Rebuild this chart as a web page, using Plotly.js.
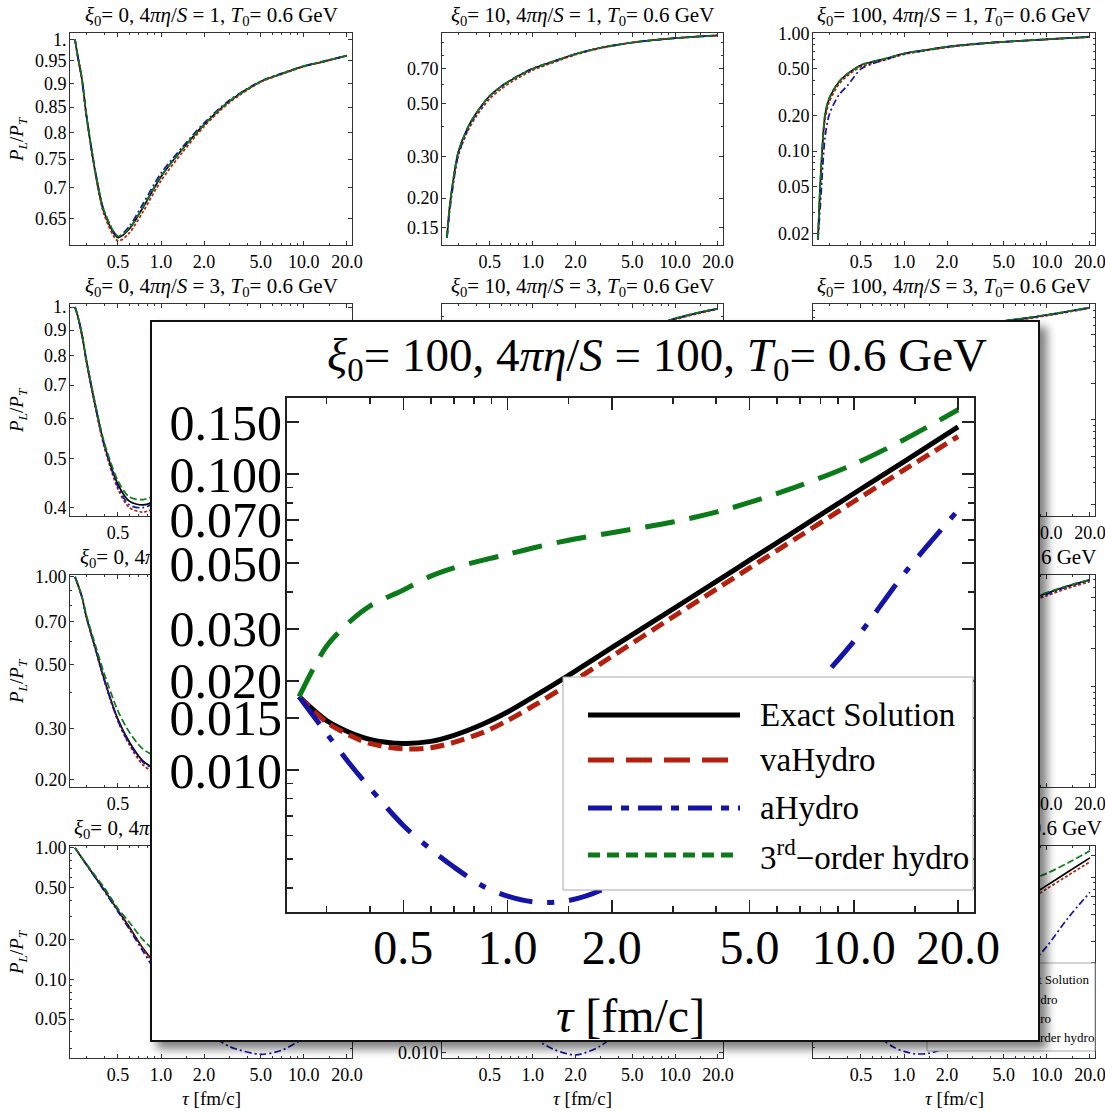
<!DOCTYPE html>
<html>
<head>
<meta charset="utf-8">
<script src="https://cdn.plot.ly/plotly-3.0.1.min.js"></script>
<style>
  html, body { margin: 0; padding: 0; background: #fff; overflow: hidden; }
  #grid { position: absolute; left: 0; top: 0; width: 1105px; height: 1112px; }
  #zoom { position: absolute; left: 150px; top: 320px; width: 886px; height: 718px;
          border: 2px solid #111; background: #fff;
          box-shadow: 7px 7px 9px rgba(0,0,0,0.5); }
</style>
</head>
<body>
<div id="grid"></div>
<div id="zoom"></div>
<script>
// Proper time grids (fm/c)
const tau = [0.25, 0.26, 0.28, 0.3, 0.35, 0.4, 0.5, 0.6, 0.75, 1.0, 1.4, 2.0, 3.0, 5.0, 7.0, 10, 14, 20];
const tauZoom = [0.25, 0.3, 0.35, 0.4, 0.5, 0.6, 0.7, 0.85, 1.0, 1.2, 1.5, 2.0, 3.0, 4.0, 5.0, 7.0, 10, 14, 20];

// P_L/P_T, xi0 = 0, 4 pi eta/S = 1
const exact_0_1 = [1.0, 0.965, 0.908, 0.835, 0.722, 0.660, 0.621, 0.634, 0.668, 0.719, 0.767, 0.815, 0.862, 0.904, 0.921, 0.938, 0.949, 0.962];
const vah_0_1   = [1.0, 0.964, 0.906, 0.833, 0.719, 0.656, 0.616, 0.628, 0.661, 0.712, 0.761, 0.811, 0.859, 0.903, 0.920, 0.937, 0.949, 0.962];
const ah_0_1    = [1.0, 0.965, 0.908, 0.835, 0.723, 0.662, 0.623, 0.638, 0.674, 0.725, 0.771, 0.818, 0.864, 0.905, 0.922, 0.938, 0.950, 0.962];
const third_0_1 = [1.0, 0.966, 0.909, 0.836, 0.724, 0.662, 0.623, 0.635, 0.669, 0.720, 0.767, 0.815, 0.862, 0.904, 0.921, 0.938, 0.949, 0.962];

// xi0 = 10, 4 pi eta/S = 1
const exact_10_1 = [0.136, 0.18, 0.25, 0.312, 0.396, 0.454, 0.539, 0.589, 0.641, 0.700, 0.752, 0.808, 0.858, 0.903, 0.924, 0.942, 0.955, 0.967];
const vah_10_1   = [0.136, 0.176, 0.243, 0.302, 0.383, 0.440, 0.524, 0.575, 0.629, 0.690, 0.744, 0.802, 0.854, 0.901, 0.923, 0.941, 0.954, 0.966];
const ah_10_1    = [0.136, 0.172, 0.240, 0.303, 0.390, 0.451, 0.538, 0.590, 0.643, 0.702, 0.753, 0.808, 0.858, 0.903, 0.924, 0.942, 0.955, 0.967];
const third_10_1 = [0.136, 0.18, 0.251, 0.313, 0.397, 0.455, 0.540, 0.590, 0.642, 0.700, 0.752, 0.808, 0.858, 0.903, 0.924, 0.942, 0.955, 0.967];

// xi0 = 100, 4 pi eta/S = 1
const exact_100_1 = [0.0177, 0.055, 0.20, 0.28, 0.387, 0.451, 0.538, 0.574, 0.613, 0.676, 0.722, 0.770, 0.811, 0.850, 0.870, 0.893, 0.914, 0.935];
const vah_100_1   = [0.0177, 0.050, 0.185, 0.262, 0.370, 0.435, 0.522, 0.558, 0.600, 0.664, 0.712, 0.762, 0.805, 0.846, 0.867, 0.891, 0.912, 0.934];
const ah_100_1    = [0.0177, 0.035, 0.13, 0.205, 0.30, 0.358, 0.50, 0.553, 0.603, 0.672, 0.720, 0.770, 0.811, 0.850, 0.870, 0.893, 0.914, 0.935];
const third_100_1 = [0.0177, 0.058, 0.205, 0.285, 0.390, 0.453, 0.540, 0.576, 0.614, 0.676, 0.722, 0.770, 0.811, 0.850, 0.870, 0.893, 0.914, 0.935];

// xi0 = 0, 4 pi eta/S = 3
const exact_0_3 = [1.0, 0.965, 0.88, 0.785, 0.63, 0.535, 0.445, 0.412, 0.405, 0.42, 0.46, 0.52, 0.60, 0.70, 0.755, 0.80, 0.838, 0.87];
const vah_0_3   = [1.0, 0.963, 0.876, 0.78, 0.624, 0.528, 0.435, 0.40, 0.392, 0.405, 0.445, 0.505, 0.585, 0.69, 0.748, 0.795, 0.834, 0.866];
const ah_0_3    = [1.0, 0.965, 0.88, 0.785, 0.63, 0.533, 0.44, 0.405, 0.40, 0.418, 0.46, 0.52, 0.60, 0.70, 0.755, 0.80, 0.838, 0.87];
const third_0_3 = [1.0, 0.966, 0.882, 0.788, 0.635, 0.54, 0.452, 0.42, 0.415, 0.43, 0.468, 0.526, 0.604, 0.703, 0.757, 0.802, 0.839, 0.871];

// xi0 = 10, 4 pi eta/S = 3
const exact_10_3 = [0.134, 0.16, 0.205, 0.24, 0.30, 0.345, 0.405, 0.44, 0.475, 0.515, 0.56, 0.605, 0.655, 0.70, 0.735, 0.785, 0.825, 0.862];
const vah_10_3   = [0.134, 0.158, 0.20, 0.234, 0.292, 0.335, 0.392, 0.425, 0.46, 0.50, 0.545, 0.592, 0.643, 0.69, 0.727, 0.778, 0.819, 0.857];
const ah_10_3    = [0.134, 0.152, 0.19, 0.225, 0.285, 0.33, 0.395, 0.435, 0.473, 0.515, 0.56, 0.605, 0.655, 0.70, 0.735, 0.785, 0.825, 0.862];
const third_10_3 = [0.134, 0.162, 0.208, 0.245, 0.306, 0.352, 0.413, 0.448, 0.483, 0.522, 0.565, 0.61, 0.659, 0.703, 0.737, 0.787, 0.827, 0.863];

// xi0 = 100, 4 pi eta/S = 3
const exact_100_3 = [0.0177, 0.03, 0.06, 0.09, 0.15, 0.20, 0.27, 0.315, 0.36, 0.415, 0.47, 0.525, 0.585, 0.65, 0.685, 0.73, 0.78, 0.84];
const vah_100_3   = [0.0177, 0.029, 0.057, 0.086, 0.144, 0.192, 0.26, 0.303, 0.347, 0.40, 0.455, 0.51, 0.57, 0.636, 0.673, 0.72, 0.771, 0.832];
const ah_100_3    = [0.0177, 0.024, 0.042, 0.062, 0.11, 0.155, 0.23, 0.28, 0.335, 0.40, 0.46, 0.52, 0.583, 0.65, 0.685, 0.73, 0.78, 0.84];
const third_100_3 = [0.0177, 0.032, 0.065, 0.097, 0.16, 0.21, 0.28, 0.325, 0.37, 0.424, 0.478, 0.532, 0.59, 0.654, 0.688, 0.733, 0.782, 0.842];

// xi0 = 0, 4 pi eta/S = 10
const exact_0_10 = [1.0, 0.95, 0.85, 0.73, 0.56, 0.445, 0.323, 0.27, 0.232, 0.215, 0.22, 0.245, 0.29, 0.36, 0.41, 0.47, 0.525, 0.58];
const vah_0_10   = [1.0, 0.95, 0.848, 0.728, 0.555, 0.44, 0.318, 0.264, 0.225, 0.207, 0.211, 0.235, 0.28, 0.35, 0.40, 0.46, 0.515, 0.57];
const ah_0_10    = [1.0, 0.95, 0.85, 0.73, 0.558, 0.443, 0.32, 0.267, 0.23, 0.213, 0.218, 0.243, 0.288, 0.358, 0.408, 0.468, 0.523, 0.578];
const third_0_10 = [1.0, 0.952, 0.855, 0.74, 0.575, 0.465, 0.345, 0.292, 0.255, 0.238, 0.24, 0.26, 0.30, 0.37, 0.42, 0.48, 0.53, 0.585];

// xi0 = 10, 4 pi eta/S = 10
const exact_10_10 = [0.134, 0.14, 0.15, 0.158, 0.172, 0.182, 0.196, 0.206, 0.218, 0.235, 0.258, 0.285, 0.325, 0.385, 0.425, 0.475, 0.525, 0.575];
const vah_10_10   = [0.134, 0.14, 0.149, 0.156, 0.169, 0.178, 0.19, 0.199, 0.21, 0.226, 0.249, 0.276, 0.316, 0.375, 0.416, 0.466, 0.516, 0.567];
const ah_10_10    = [0.134, 0.137, 0.142, 0.146, 0.154, 0.161, 0.173, 0.184, 0.198, 0.218, 0.244, 0.274, 0.318, 0.381, 0.422, 0.473, 0.523, 0.574];
const third_10_10 = [0.134, 0.142, 0.155, 0.165, 0.182, 0.195, 0.212, 0.224, 0.237, 0.254, 0.275, 0.30, 0.337, 0.394, 0.432, 0.48, 0.53, 0.58];

// xi0 = 100, 4 pi eta/S = 10
const exact_100_10 = [0.0177, 0.022, 0.03, 0.038, 0.055, 0.07, 0.095, 0.115, 0.14, 0.175, 0.22, 0.27, 0.33, 0.41, 0.47, 0.545, 0.62, 0.695];
const vah_100_10   = [0.0177, 0.0218, 0.0295, 0.037, 0.053, 0.067, 0.09, 0.109, 0.133, 0.166, 0.209, 0.257, 0.315, 0.393, 0.45, 0.522, 0.597, 0.672];
const ah_100_10    = [0.0177, 0.019, 0.022, 0.025, 0.031, 0.037, 0.05, 0.063, 0.083, 0.115, 0.16, 0.215, 0.29, 0.385, 0.455, 0.535, 0.615, 0.692];
const third_100_10 = [0.0177, 0.028, 0.042, 0.055, 0.08, 0.10, 0.13, 0.155, 0.18, 0.215, 0.255, 0.30, 0.355, 0.425, 0.48, 0.552, 0.625, 0.698];

// xi0 = 0, 4 pi eta/S = 100
const exact_0_100 = [1.0, 0.94, 0.835, 0.75, 0.59, 0.48, 0.335, 0.25, 0.172, 0.118, 0.086, 0.067, 0.057, 0.056, 0.065, 0.082, 0.105, 0.14];
const vah_0_100   = [1.0, 0.94, 0.834, 0.749, 0.588, 0.477, 0.332, 0.246, 0.169, 0.114, 0.082, 0.063, 0.054, 0.053, 0.061, 0.077, 0.099, 0.132];
const ah_0_100    = [1.0, 0.94, 0.834, 0.748, 0.585, 0.472, 0.327, 0.241, 0.163, 0.10, 0.062, 0.042, 0.031, 0.027, 0.029, 0.036, 0.05, 0.075];
const third_0_100 = [1.0, 0.942, 0.84, 0.758, 0.605, 0.50, 0.345, 0.272, 0.20, 0.15, 0.122, 0.106, 0.098, 0.099, 0.108, 0.123, 0.143, 0.17];

// xi0 = 10, 4 pi eta/S = 100
const exact_10_100 = [0.134, 0.124, 0.106, 0.092, 0.068, 0.053, 0.037, 0.029, 0.024, 0.022, 0.022, 0.025, 0.031, 0.044, 0.055, 0.072, 0.097, 0.14];
const vah_10_100   = [0.134, 0.124, 0.106, 0.092, 0.067, 0.052, 0.036, 0.028, 0.023, 0.021, 0.021, 0.024, 0.029, 0.041, 0.052, 0.068, 0.091, 0.131];
const ah_10_100    = [0.134, 0.122, 0.10, 0.084, 0.058, 0.043, 0.03, 0.022, 0.0165, 0.0125, 0.0105, 0.0097, 0.011, 0.016, 0.022, 0.032, 0.048, 0.075];
const third_10_100 = [0.134, 0.125, 0.109, 0.097, 0.076, 0.064, 0.05, 0.044, 0.041, 0.041, 0.043, 0.047, 0.054, 0.066, 0.076, 0.09, 0.112, 0.162];

// xi0 = 100, 4 pi eta/S = 100 (lower-right panel and the enlarged view)
const exact_100_100 = [0.0177, 0.0147, 0.0134, 0.0127, 0.0123, 0.0125, 0.0131, 0.0143, 0.0157, 0.0178, 0.0209, 0.0259, 0.0350, 0.0433, 0.0512, 0.0658, 0.0860, 0.1105, 0.1445];
const vah_100_100   = [0.0177, 0.0145, 0.0131, 0.0123, 0.0118, 0.0119, 0.0124, 0.0134, 0.0147, 0.0166, 0.0195, 0.0242, 0.0329, 0.0408, 0.0482, 0.0619, 0.0808, 0.1035, 0.134];
const ah_100_100    = [0.0177, 0.0133, 0.0105, 0.0087, 0.0065, 0.0054, 0.0047, 0.00405, 0.00375, 0.00358, 0.00362, 0.0041, 0.0063, 0.0091, 0.0118, 0.0171, 0.0272, 0.0462, 0.0755];
const third_100_100 = [0.0177, 0.0262, 0.0317, 0.0358, 0.0406, 0.0452, 0.0482, 0.0512, 0.0536, 0.0565, 0.0598, 0.0634, 0.0689, 0.0744, 0.0802, 0.0916, 0.108, 0.131, 0.165];

// Axis tick values and labels
const xTicks = [0.5, 1, 2, 5, 10, 20];
const xTickText = ['0.5', '1.0', '2.0', '5.0', '10.0', '20.0'];
const xMinor = [0.3, 0.4, 0.6, 0.7, 0.8, 0.9, 1.5, 3, 4, 6, 7, 8, 9, 15];
const zoomYTicks = [0.01, 0.015, 0.02, 0.03, 0.05, 0.07, 0.1, 0.15];
const zoomYText = ['0.010', '0.015', '0.020', '0.030', '0.050', '0.070', '0.100', '0.150'];
const seriesNames = ['Exact Solution', 'vaHydro', 'aHydro', '3<sup>rd</sup>\u2212order hydro'];
const xiLabels = ['0', '10', '100'];
const etaLabels = ['1', '3', '10', '100'];

// ---------- styling ----------
const FONT = 'Liberation Serif, Times New Roman, serif';
const RED = '#b3200d', BLUE = '#1414a6', GREEN = '#0a7b18';
const smallLine = [
  { color: '#000', width: 1.7 },
  { color: RED, width: 1.7, dash: '3px,2px' },
  { color: BLUE, width: 1.7, dash: '7px,3px,2px,3px' },
  { color: GREEN, width: 1.7, dash: '7px,3px' }
];
const bigLine = [
  { color: '#000', width: 5 },
  { color: RED, width: 5, dash: '14px,7px' },
  { color: BLUE, width: 5, dash: '34px,15px,7px,15px' },
  { color: GREEN, width: 5, dash: '30px,15px' }
];
// legend samples use their own dash patterns
const legendLine = [
  { color: '#000', width: 5 },
  { color: RED, width: 5, dash: '26px,12px' },
  { color: BLUE, width: 5, dash: '24px,9px,8px,9px' },
  { color: GREEN, width: 5, dash: '12px,7px' }
];
const yMinor = [];
[-3, -2, -1, 0].forEach(e => { for (let m = 1; m < 10; m++) yMinor.push(+(m * Math.pow(10, e)).toPrecision(3)); });

function title(xi, eta) {
  return '<i>\u03be</i><sub>0</sub>= ' + xi + ', 4<i>\u03c0\u03b7</i>/<i>S</i> = ' + eta +
         ', <i>T</i><sub>0</sub>= 0.6 GeV';
}

// ---------- panel grid ----------
const W = 1105, H = 1112;
const colPx = [[70, 352], [442, 723], [813, 1095]];
const rowPx = [[33, 245], [304, 516], [575, 787], [846, 1058]];
const xRange = [0.2307, 21.72];

const panels = [
  { t: tau, s: [exact_0_1, vah_0_1, ah_0_1, third_0_1], yr: [0.61, 1.016],
    yt: [0.65, 0.7, 0.75, 0.8, 0.85, 0.9, 0.95, 1], ytt: ['0.65', '0.7', '0.75', '0.8', '0.85', '0.9', '0.95', '1.'] },
  { t: tau, s: [exact_10_1, vah_10_1, ah_10_1, third_10_1], yr: [0.127, 0.99],
    yt: [0.15, 0.2, 0.3, 0.5, 0.7], ytt: ['0.15', '0.20', '0.30', '0.50', '0.70'] },
  { t: tau, s: [exact_100_1, vah_100_1, ah_100_1, third_100_1], yr: [0.0159, 1.01],
    yt: [0.02, 0.05, 0.1, 0.2, 0.5, 1], ytt: ['0.02', '0.05', '0.10', '0.20', '0.50', '1.00'] },
  { t: tau, s: [exact_0_3, vah_0_3, ah_0_3, third_0_3], yr: [0.385, 1.014],
    yt: [0.4, 0.5, 0.6, 0.7, 0.8, 0.9, 1], ytt: ['0.4', '0.5', '0.6', '0.7', '0.8', '0.9', '1.'] },
  { t: tau, s: [exact_10_3, vah_10_3, ah_10_3, third_10_3], yr: [0.125, 0.9],
    yt: [0.15, 0.2, 0.3, 0.5, 0.7], ytt: ['0.15', '0.20', '0.30', '0.50', '0.70'] },
  { t: tau, s: [exact_100_3, vah_100_3, ah_100_3, third_100_3], yr: [0.016, 0.9],
    yt: [0.02, 0.05, 0.1, 0.2, 0.5], ytt: ['0.02', '0.05', '0.10', '0.20', '0.50'] },
  { t: tau, s: [exact_0_10, vah_0_10, ah_0_10, third_0_10], yr: [0.189, 1.015],
    yt: [0.2, 0.3, 0.5, 0.7, 1], ytt: ['0.20', '0.30', '0.50', '0.70', '1.00'] },
  { t: tau, s: [exact_10_10, vah_10_10, ah_10_10, third_10_10], yr: [0.125, 0.6],
    yt: [0.15, 0.2, 0.3, 0.5], ytt: ['0.15', '0.20', '0.30', '0.50'] },
  { t: tau, s: [exact_100_10, vah_100_10, ah_100_10, third_100_10], yr: [0.016, 0.76],
    yt: [0.02, 0.05, 0.1, 0.2, 0.5], ytt: ['0.02', '0.05', '0.10', '0.20', '0.50'] },
  { t: tau, s: [exact_0_100, vah_0_100, ah_0_100, third_0_100], yr: [0.0253, 1.033],
    yt: [0.05, 0.1, 0.2, 0.5, 1], ytt: ['0.05', '0.10', '0.20', '0.50', '1.00'] },
  { t: tau, s: [exact_10_100, vah_10_100, ah_10_100, third_10_100], yr: [0.0093, 0.175],
    yt: [0.01, 0.02, 0.05, 0.1], ytt: ['0.010', '0.020', '0.050', '0.100'] },
  { t: tauZoom, s: [exact_100_100, vah_100_100, ah_100_100, third_100_100], yr: [0.00331, 0.1808],
    yt: zoomYTicks, ytt: zoomYText }
];

const px = x => x / W;
const py = y => 1 - y / H;
const traces = [];
const layout = {
  width: W, height: H, margin: { l: 0, r: 0, t: 0, b: 0 },
  paper_bgcolor: '#fff', plot_bgcolor: '#fff', showlegend: false,
  font: { family: FONT, size: 18, color: '#000' },
  annotations: [], shapes: []
};

panels.forEach((p, i) => {
  const row = Math.floor(i / 3), col = i % 3;
  const n = i === 0 ? '' : String(i + 1);
  p.s.forEach((ys, k) => {
    traces.push({
      type: 'scatter', mode: 'lines', x: p.t, y: ys, name: seriesNames[k],
      xaxis: 'x' + n, yaxis: 'y' + n, hoverinfo: 'skip',
      line: Object.assign({ shape: 'spline', smoothing: 0.8 }, smallLine[k])
    });
  });
  const [c0, c1] = colPx[col], [r0, r1] = rowPx[row];
  const common = {
    type: 'log', ticks: 'inside', ticklen: 4, tickwidth: 1, tickcolor: '#333',
    showline: true, linecolor: '#333', linewidth: 1, mirror: 'ticks',
    showgrid: false, zeroline: false, fixedrange: true, tickfont: { size: 18 },
    ticklabeloverflow: 'allow'
  };
  layout['xaxis' + n] = Object.assign({}, common, {
    domain: [px(c0), px(c1)], anchor: 'y' + n, range: xRange.map(Math.log10),
    tickmode: 'array', tickvals: xTicks, ticktext: xTickText, tickangle: 0,
    minor: { tickmode: 'array', tickvals: xMinor, ticks: 'inside', ticklen: 2, tickcolor: '#333' }
  });
  layout['yaxis' + n] = Object.assign({}, common, {
    domain: [py(r1), py(r0)], anchor: 'x' + n, range: p.yr.map(Math.log10),
    tickmode: 'array', tickvals: p.yt, ticktext: p.ytt, ticklabelstandoff: -1,
    minor: { tickmode: 'array', tickvals: yMinor, ticks: 'inside', ticklen: 2, tickcolor: '#333' }
  });
  layout.annotations.push({
    text: title(xiLabels[col], etaLabels[row]), xref: 'paper', yref: 'paper',
    x: px((c0 + c1) / 2), y: py(r0 - 17), xanchor: 'center', yanchor: 'middle',
    showarrow: false, font: { size: 21 }
  });
  if (col === 0) {
    layout.annotations.push({
      text: '<i>P</i><sub><i>L</i></sub>/<i>P</i><sub><i>T</i></sub>', xref: 'paper', yref: 'paper',
      x: px(18), y: py((r0 + r1) / 2), xanchor: 'center', yanchor: 'middle', textangle: -90,
      showarrow: false, font: { size: 19 }
    });
  }
  if (row === 3) {
    layout.annotations.push({
      text: '<i>\u03c4</i> [fm/c]', xref: 'paper', yref: 'paper',
      x: px((c0 + c1) / 2), y: py(1098), xanchor: 'center', yanchor: 'middle',
      showarrow: false, font: { size: 19 }
    });
  }
});

// legend of the lower-right panel
layout.shapes.push({ type: 'rect', xref: 'paper', yref: 'paper', layer: 'above',
  x0: px(927), x1: px(1095), y0: py(1051), y1: py(963),
  line: { color: '#aaa', width: 1 }, fillcolor: '#fff' });
[979, 999, 1018, 1037].forEach((yy, k) => {
  layout.shapes.push({ type: 'line', xref: 'paper', yref: 'paper', layer: 'above',
    x0: px(935), x1: px(1000), y0: py(yy), y1: py(yy),
    line: Object.assign({}, legendLine[k], { width: 1.5 }) });
  layout.annotations.push({ text: seriesNames[k], xref: 'paper', yref: 'paper',
    x: px(1010), y: py(yy), xanchor: 'left', yanchor: 'middle', showarrow: false,
    font: { size: 13 } });
});

Plotly.newPlot('grid', traces, layout, { staticPlot: true, displayModeBar: false });

// ---------- enlarged view of xi0 = 100, 4 pi eta/S = 100 ----------
const ZW = 886, ZH = 718;
const ZM = { l: 135, r: 64, t: 76, b: 128 };
const zx = v => (v - ZM.l) / (ZW - ZM.l - ZM.r);
const zy = v => (ZH - ZM.b - v) / (ZH - ZM.t - ZM.b);

const zTraces = [exact_100_100, vah_100_100, ah_100_100, third_100_100].map((ys, k) => ({
  type: 'scatter', mode: 'lines', x: tauZoom, y: ys, name: seriesNames[k], hoverinfo: 'skip',
  line: Object.assign({ shape: 'spline', smoothing: 0.9 }, bigLine[k])
}));

const zLayout = {
  width: ZW, height: ZH, margin: ZM, showlegend: false,
  paper_bgcolor: '#fff', plot_bgcolor: '#fff',
  font: { family: FONT, color: '#000' },
  title: { text: title('100', '100'), font: { size: 47 }, x: 505 / ZW, xanchor: 'center',
           y: 1 - 33 / ZH, yanchor: 'middle' },
  xaxis: {
    type: 'log', range: [-0.637, 1.347], tickmode: 'array', tickvals: xTicks, ticktext: xTickText,
    ticks: 'inside', ticklen: 12, tickwidth: 1.5, tickcolor: '#222', tickangle: 0,
    showline: true, linecolor: '#222', linewidth: 2, mirror: 'ticks', showgrid: false, zeroline: false,
    tickfont: { size: 48 }, fixedrange: true, ticklabelstandoff: -8, ticklabeloverflow: 'allow',
    minor: { tickmode: 'array', tickvals: xMinor, ticks: 'inside', ticklen: 6, tickcolor: '#222' }
  },
  yaxis: {
    type: 'log', range: [-2.4797, -0.7428], tickmode: 'array', tickvals: zoomYTicks, ticktext: zoomYText,
    ticks: 'inside', ticklen: 12, tickwidth: 1.5, tickcolor: '#222',
    showline: true, linecolor: '#222', linewidth: 2, mirror: 'ticks', showgrid: false, zeroline: false,
    tickfont: { size: 50 }, fixedrange: true, ticklabelstandoff: -7, ticklabeloverflow: 'allow',
    minor: { tickmode: 'array', tickvals: yMinor, ticks: 'inside', ticklen: 6, tickcolor: '#222' }
  },
  annotations: [{
    text: '<i>\u03c4</i> [fm/c]', xref: 'paper', yref: 'paper', x: zx(478), y: zy(693),
    xanchor: 'center', yanchor: 'middle', showarrow: false, font: { size: 48 }
  }],
  shapes: [{
    type: 'rect', xref: 'paper', yref: 'paper', layer: 'above',
    x0: zx(411), x1: zx(821), y0: zy(568), y1: zy(355),
    line: { color: '#aaa', width: 1 }, fillcolor: '#fff'
  }]
};
[393, 438, 486, 533].forEach((yy, k) => {
  zLayout.shapes.push({ type: 'line', xref: 'paper', yref: 'paper', layer: 'above',
    x0: zx(436), x1: zx(588), y0: zy(yy), y1: zy(yy), line: legendLine[k] });
  zLayout.annotations.push({ text: seriesNames[k], xref: 'paper', yref: 'paper',
    x: zx(606), y: zy(yy), xanchor: 'left', yanchor: 'middle', showarrow: false,
    font: { size: 33 } });
});

Plotly.newPlot('zoom', zTraces, zLayout, { staticPlot: true, displayModeBar: false });
</script>
</body>
</html>
